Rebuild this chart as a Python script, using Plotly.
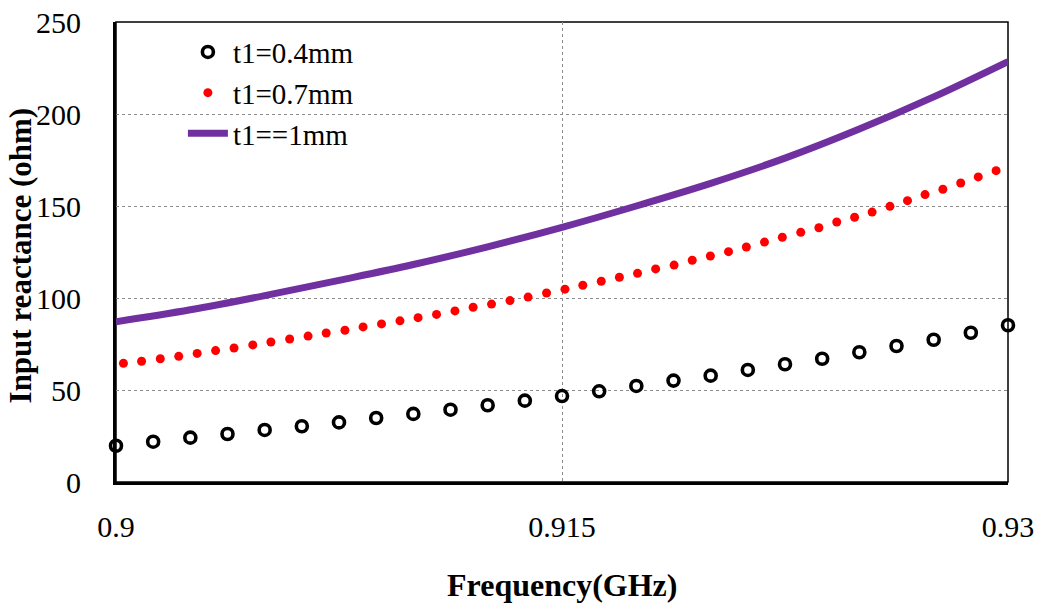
import plotly.graph_objects as go

# t1 = 0.4 mm : simulated points
freq_04 = [0.90000, 0.90125, 0.90250, 0.90375, 0.90500, 0.90625, 0.90750, 0.90875,
           0.91000, 0.91125, 0.91250, 0.91375, 0.91500, 0.91625, 0.91750, 0.91875,
           0.92000, 0.92125, 0.92250, 0.92375, 0.92500, 0.92625, 0.92750, 0.92875,
           0.93000]
react_04 = [19.7, 21.9, 24.1, 26.1, 28.3, 30.3, 32.4, 34.8, 37.0, 39.3, 41.7, 44.2,
            46.7, 49.3, 52.2, 55.1, 57.8, 60.9, 64.0, 67.0, 70.5, 73.9, 77.3, 81.1,
            85.2]

# t1 = 0.7 mm : dotted curve samples
freq_07 = [0.90025, 0.90086, 0.90149, 0.90211, 0.90273, 0.90335, 0.90397, 0.90460,
           0.90521, 0.90584, 0.90646, 0.90707, 0.90770, 0.90831, 0.90893, 0.90955,
           0.91016, 0.91078, 0.91140, 0.91201, 0.91263, 0.91325, 0.91386, 0.91448,
           0.91510, 0.91570, 0.91632, 0.91693, 0.91754, 0.91815, 0.91877, 0.91938,
           0.91999, 0.92060, 0.92120, 0.92181, 0.92241, 0.92303, 0.92364, 0.92424,
           0.92484, 0.92543, 0.92603, 0.92662, 0.92721, 0.92781, 0.92841, 0.92900,
           0.92960, 0.93011]
react_07 = [64.5, 65.6, 67.0, 68.3, 69.9, 71.4, 72.8, 74.5, 76.1, 77.7, 79.3, 81.0,
            82.5, 84.3, 85.9, 87.6, 89.3, 91.1, 93.0, 95.0, 96.7, 98.6, 100.5, 102.7,
            104.8, 106.9, 109.1, 111.3, 113.4, 115.8, 117.9, 120.5, 122.8, 125.2,
            127.7, 130.4, 133.0, 135.7, 138.2, 141.3, 143.9, 146.7, 149.8, 152.9,
            156.2, 159.1, 162.5, 165.8, 169.2, 172.8]

# t1 = 1 mm : solid curve
freq_10 = [0.9000, 0.9025, 0.9050, 0.9075, 0.9100, 0.9125, 0.9150, 0.9175, 0.9200,
           0.9225, 0.9250, 0.9275, 0.9300]
react_10 = [87.1, 93.6, 101.3, 109.6, 118.2, 127.8, 138.4, 150.0, 162.3, 176.0,
            191.8, 209.3, 228.5]

x_ticks = [0.9, 0.915, 0.93]
x_tick_text = ["0.9", "0.915", "0.93"]
y_ticks = [0, 50, 100, 150, 200, 250]

x_title = "<b>Frequency(GHz)</b>"
y_title = "<b>Input reactance (ohm)</b>"

FONT = "Liberation Serif, Times New Roman, serif"
FS = 32
TICK_FS = 30

fig = go.Figure()

fig.add_trace(go.Scatter(
    x=freq_04, y=react_04, mode="markers", name="t1=0.4mm",
    marker=dict(symbol="circle-open", size=11, color="black",
                line=dict(width=3.6, color="black")),
    cliponaxis=False,
))
fig.add_trace(go.Scatter(
    x=freq_07, y=react_07, mode="markers", name="t1=0.7mm",
    marker=dict(symbol="circle", size=9, color="#FF0000", line=dict(width=0)),
    cliponaxis=False,
))
fig.add_trace(go.Scatter(
    x=freq_10, y=react_10, mode="lines", name="t1==1mm",
    line=dict(color="#7030A0", width=7, shape="spline"),
))

# thin frame on the top and right sides of the plot area
fig.add_shape(type="rect", xref="paper", yref="paper", x0=0, x1=1, y0=0, y1=1,
              line=dict(color="black", width=1.5), layer="below")

# axis titles placed as paper annotations
fig.add_annotation(text=x_title, xref="paper", yref="paper", x=0.5, y=-0.224,
                   xanchor="center", yanchor="middle", showarrow=False,
                   font=dict(family=FONT, size=FS, color="black"))
fig.add_annotation(text=y_title, xref="paper", yref="paper", x=-0.106, y=0.4935,
                   xanchor="center", yanchor="middle", showarrow=False,
                   textangle=-90,
                   font=dict(family=FONT, size=31, color="black"))

fig.update_layout(
    width=1042, height=608,
    margin=dict(l=116, r=34, t=22, b=126),
    paper_bgcolor="white", plot_bgcolor="white",
    font=dict(family=FONT, size=FS, color="black"),
    showlegend=True,
    legend=dict(
        x=0.075, y=0.99, xanchor="left", yanchor="top",
        bgcolor="rgba(0,0,0,0)", borderwidth=0,
        font=dict(family=FONT, size=29, color="black"),
        itemwidth=40, tracegroupgap=0,
    ),
    xaxis=dict(
        range=[0.9, 0.93], tickvals=x_ticks, ticktext=x_tick_text,
        automargin=False,
        showline=True, linecolor="black", linewidth=3,
        showgrid=True, gridcolor="#8c8c8c", gridwidth=1, griddash="dot",
        zeroline=False, ticks="", ticklabelstandoff=16,
        tickfont=dict(family=FONT, size=TICK_FS),
    ),
    yaxis=dict(
        range=[0, 250], tickvals=y_ticks,
        automargin=False,
        showline=True, linecolor="black", linewidth=3,
        showgrid=True, gridcolor="#8c8c8c", gridwidth=1, griddash="dot",
        zeroline=False, ticks="", ticklabelstandoff=26,
        tickfont=dict(family=FONT, size=TICK_FS),
    ),
)

fig.write_html("out.html")
